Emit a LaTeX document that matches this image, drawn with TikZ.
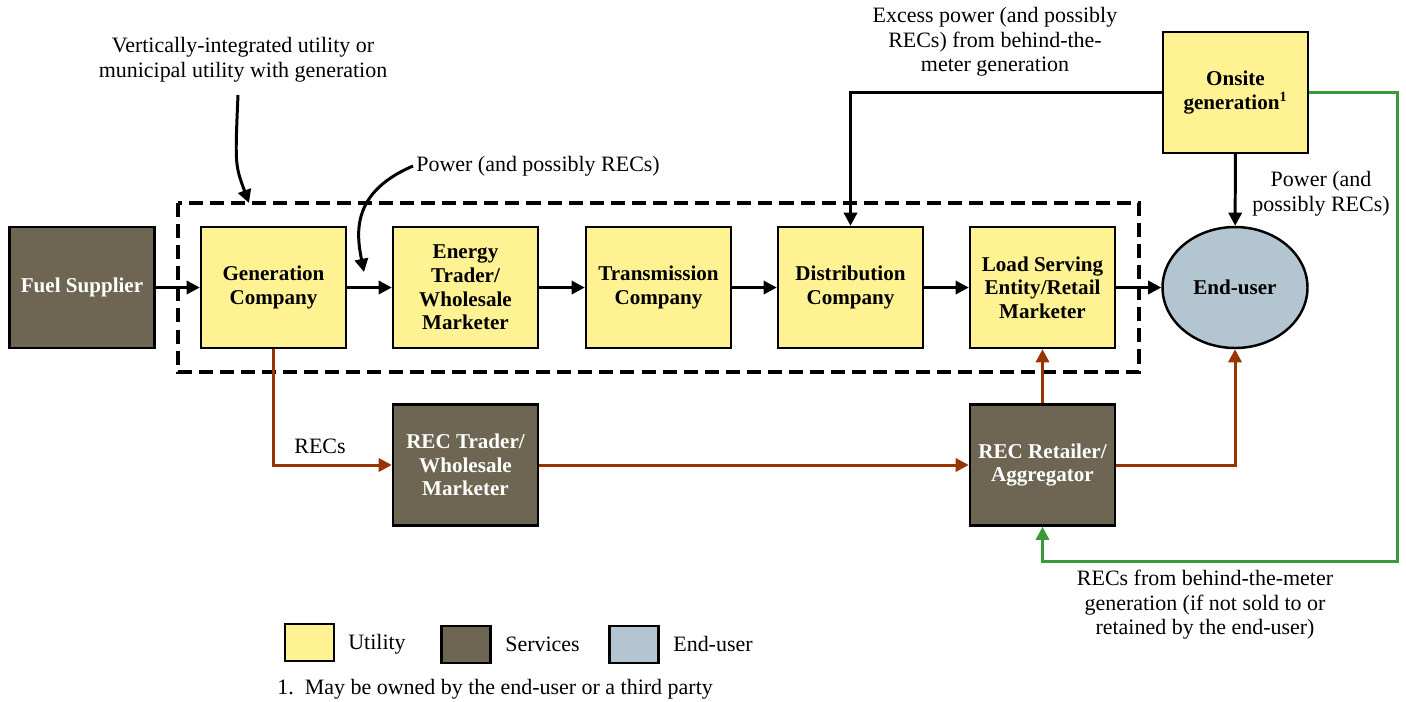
\documentclass[tikz,border=0pt]{standalone}
\usepackage{fontspec}
\setmainfont{Liberation Serif}
\usetikzlibrary{arrows.meta,shapes.geometric}
\definecolor{utilyel}{HTML}{FFF293}
\definecolor{servbrn}{HTML}{6E6652}
\definecolor{eublue}{HTML}{B3C5D1}
\definecolor{recbrn}{HTML}{993300}
\definecolor{btmgrn}{HTML}{3A9A3A}
\tikzset{
  box/.style={draw=black, line width=1.4pt, minimum width=2.9cm, minimum height=2.42cm, inner sep=0pt, align=center, font=\bfseries\fontsize{12}{13.5}\selectfont},
  utilbox/.style={box, fill=utilyel},
  servbox/.style={box, fill=servbrn, text=white},
  eunode/.style={ellipse, draw=black, line width=1.4pt, fill=eublue, minimum width=2.9cm, minimum height=2.42cm, inner sep=0pt, font=\bfseries\fontsize{12}{13.5}\selectfont},
  lbl/.style={align=center, inner sep=0pt, font=\fontsize{12.5}{14}\selectfont},
  conn/.style={line width=1.7pt, -{Triangle[length=7.5pt,width=7.5pt]}},
  recconn/.style={conn, draw=recbrn, -{Triangle[length=7.5pt,width=7.5pt,fill=recbrn]}},
  grnconn/.style={conn, draw=btmgrn, -{Triangle[length=7.5pt,width=7.5pt,fill=btmgrn]}},
  legbox/.style={draw=black, line width=1.4pt, minimum width=0.98cm, minimum height=0.74cm, inner sep=0pt},
}
\begin{document}
\begin{tikzpicture}[x=0.02cm,y=-0.02cm]
\useasboundingbox (0,0) rectangle (1406,701);
% dashed utility box
\draw[line width=2pt, dash pattern=on 8pt off 4pt] (178,203) rectangle (1139,372);
\coordinate (vtarget) at (249,203);
% main nodes
\node[servbox] (fuel) at (82,287.5) {Fuel Supplier};
\node[utilbox] (gen) at (273.5,287.5) {Generation\\Company};
\node[utilbox] (etr) at (465.5,287.5) {Energy\\Trader/\\Wholesale\\Marketer};
\node[utilbox] (trn) at (658.5,287.5) {Transmission\\Company};
\node[utilbox] (dst) at (850.5,287.5) {Distribution\\Company};
\node[utilbox] (lse) at (1042.5,287.5) {Load Serving\\Entity/Retail\\Marketer};
\node[eunode] (eu) at (1235,287.5) {End-user};
\node[utilbox] (ons) at (1235.5,92.5) {Onsite\\generation\textsuperscript{1}};
\node[servbox] (rtr) at (465.5,465) {REC Trader/\\Wholesale\\Marketer};
\node[servbox] (rrt) at (1042.5,465) {REC Retailer/\\Aggregator};
% labels
\node[lbl] (vlbl) at (243,60) {Vertically-integrated utility or\\municipal utility with generation};
\node[lbl, anchor=west] (plbl) at (416,166) {Power (and possibly RECs)};
\node[lbl] (xlbl) at (995,42) {Excess power (and possibly\\RECs) from behind-the-\\meter generation};
\node[lbl] (p2lbl) at (1321,194) {Power (and\\possibly RECs)};
\node[lbl] (rlbl) at (1205,605) {RECs from behind-the-meter\\generation (if not sold to or\\retained by the end-user)};
\node[lbl] (reclbl) at (320,446) {RECs};
% power chain
\draw[conn] (fuel) -- (gen);
\draw[conn] (gen) -- (etr);
\draw[conn] (etr) -- (trn);
\draw[conn] (trn) -- (dst);
\draw[conn] (dst) -- (lse);
\draw[conn] (lse) -- (eu);
\draw[conn] (ons) -- (eu);
\draw[conn] (ons.west) -| (dst.north);
% curved annotation arrows
\coordinate (vstart) at (238,95);
\draw[conn] (vstart) .. controls (235,165) .. (vtarget);
\coordinate (pstart) at (413,166);
\coordinate (pend) at (364,272);
\draw[conn] (pstart) .. controls (352,192) and (356,232) .. (pend);
% REC flows
\draw[recconn] (gen.south) |- (rtr.west);
\draw[recconn] (rtr) -- (rrt);
\draw[recconn] (rrt) -- (lse);
\draw[recconn] (rrt.east) -| (eu.south);
% green behind-the-meter REC flow
\coordinate (g1) at (1397,92.5);
\coordinate (g2) at (1397,561);
\draw[grnconn] (ons.east) -- (g1) -- (g2) -| (rrt.south);
% legend
\node[legbox, fill=utilyel] (lu) at (309.5,642.5) {};
\node[lbl, anchor=west] (lut) at (348,644) {Utility};
\node[legbox, fill=servbrn] (ls) at (466,644.5) {};
\node[lbl, anchor=west] (lst) at (505,644) {Services};
\node[legbox, fill=eublue] (le) at (634,644.5) {};
\node[lbl, anchor=west] (let) at (673,644) {End-user};
\node[lbl, anchor=west] (foot) at (277,689) {1.\ \ May be owned by the end-user or a third party};
\end{tikzpicture}
\end{document}
